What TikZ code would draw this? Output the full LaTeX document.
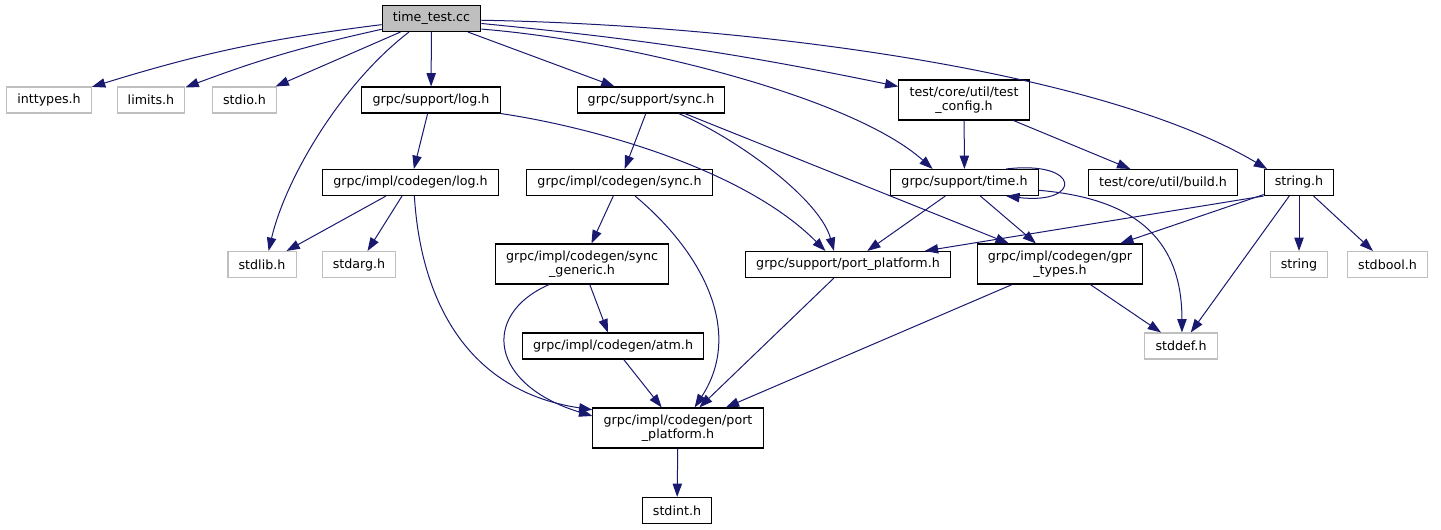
\documentclass[tikz,border=0pt]{standalone}
\usepackage{fontspec}
\newfontfamily\dxfont{DejaVu Sans}
\usetikzlibrary{arrows.meta}
\definecolor{edgeblue}{HTML}{191970}
\definecolor{sysgray}{HTML}{BFBFBF}
\tikzset{
  file/.style = {draw = black, fill = white, line width = 0.8pt, inner xsep = 8pt, inner ysep = 0pt,
    minimum height = 19.5pt, align = center, font = \dxfont\fontsize{9.5}{10.5}\selectfont},
  twofile/.style = {file, minimum height = 30pt},
  sysfile/.style = {file, draw = sysgray},
  rootfile/.style = {file, fill = sysgray},
  inc/.style = {draw = edgeblue, line width = 0.75pt, -{Triangle[length = 10pt, width = 7pt]}}
}

\begin{document}
\begin{tikzpicture}[x = 0.75pt, y = -0.75pt]
                \useasboundingbox (0,0) rectangle (1441,529);
                % top row
                \node[rootfile] (tt) at (431.5,18.5) {time\_test.cc};
                \node[sysfile] (inttypes) at (49,100) {inttypes.h};
                \node[sysfile] (limits) at (151,100) {limits.h};
                \node[sysfile] (stdio) at (244.5,100) {stdio.h};
                \node[file] (slog) at (431,100) {grpc/support/log.h};
                \node[file] (ssync) at (651,100) {grpc/support/sync.h};
                \node[twofile] (tconf) at (964,100) {test/core/util/test\\\_config.h};
                % second row
                \node[file] (clog) at (410.5,182.5) {grpc/impl/codegen/log.h};
                \node[file] (csync) at (619.5,182.5) {grpc/impl/codegen/sync.h};
                \node[file] (stime) at (964.5,182.5) {grpc/support/time.h};
                \node[file] (build) at (1163,182.5) {test/core/util/build.h};
                \node[file] (strh) at (1299,182.5) {string.h};
                % third row
                \node[sysfile] (stdlib) at (262,264.5) {stdlib.h};
                \node[sysfile] (stdarg) at (359,264.5) {stdarg.h};
                \node[twofile] (sgen) at (582,264) {grpc/impl/codegen/sync\\\_generic.h};
                \node[file] (spp) at (848,264.5) {grpc/support/port\_platform.h};
                \node[twofile] (gpr) at (1060,264) {grpc/impl/codegen/gpr\\\_types.h};
                \node[sysfile] (string) at (1299,264.5) {string};
                \node[sysfile] (stdbool) at (1387.5,264.5) {stdbool.h};
                % bottom
                \node[file] (atm) at (613,346) {grpc/impl/codegen/atm.h};
                \node[sysfile] (stddef) at (1181,346) {stddef.h};
                \node[twofile] (cpp) at (678,428) {grpc/impl/codegen/port\\\_platform.h};
                \node[file] (stdint) at (677,510.5) {stdint.h};

                % includes of time_test.cc
                \draw[inc] (tt) to[bend right = 5] (inttypes);
                \draw[inc] (tt) to[bend right = 4] (limits);
                \draw[inc] (tt) -- (stdio);
                \draw[inc] (tt.211) .. controls (340,85) and (285,180) .. (stdlib.64);
                \draw[inc] (tt) -- (slog);
                \draw[inc] (tt) -- (ssync);
                \draw[inc] (tt) to[bend left = 3] (tconf);
                \draw[inc] (tt.-12) .. controls (620,40) and (850,95) .. (stime.157);
                \draw[inc] (tt.-2) .. controls (750,25) and (1100,70) .. (strh.157);
                % grpc/support
                \draw[inc] (slog) -- (clog);
                \draw[inc] (slog.south east) .. controls (580,125) and (740,165) .. (spp.149);
                \draw[inc] (ssync) -- (csync);
                \draw[inc] (ssync.-26) .. controls (740,140) and (820,200) .. (spp.136);
                \draw[inc] (ssync) -- (gpr);
                \draw[inc] (tconf) -- (stime);
                \draw[inc] (tconf) -- (build);
                \draw[inc] (stime.18) .. controls (1082,160) and (1082,205) .. (stime.-18);
                \draw[inc] (stime) -- (spp);
                \draw[inc] (stime) -- (gpr);
                \draw[inc] (stime.-6) .. controls (1130,198) and (1182,235) .. (stddef.86);
                \draw[inc] (strh.south west) -- (spp.10);
                \draw[inc] (strh) -- (gpr);
                \draw[inc] (strh) -- (stddef);
                \draw[inc] (strh) -- (string);
                \draw[inc] (strh) -- (stdbool);
                % codegen
                \draw[inc] (clog) -- (stdlib);
                \draw[inc] (clog) -- (stdarg);
                \draw[inc] (clog.-74) .. controls (420,290) and (460,390) .. (cpp.168);
                \draw[inc] (csync) -- (sgen);
                \draw[inc] (csync.-41) .. controls (700,250) and (745,330) .. (cpp.51);
                \draw[inc] (sgen) -- (atm);
                \draw[inc] (sgen.212) .. controls (480,315) and (490,385) .. (cpp.172);
                \draw[inc] (atm) -- (cpp);
                \draw[inc] (spp) -- (cpp);
                \draw[inc] (gpr) -- (cpp);
                \draw[inc] (gpr) -- (stddef);
                \draw[inc] (cpp) -- (stdint);
\end{tikzpicture}
\end{document}
